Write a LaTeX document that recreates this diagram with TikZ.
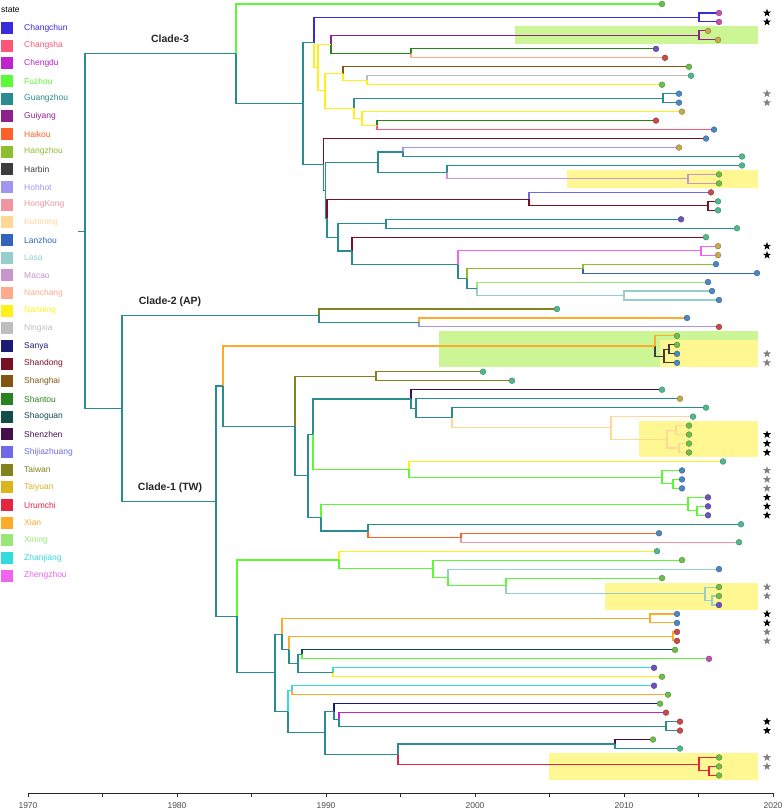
\documentclass[tikz,border=0pt]{standalone}
\usepackage{fontspec}
\setmainfont{Liberation Sans}
\usetikzlibrary{calc,shapes.geometric}
\definecolor{cChangchun}{RGB}{58,42,222}
\definecolor{cChangsha}{RGB}{255,85,120}
\definecolor{cChengdu}{RGB}{190,35,205}
\definecolor{cFuzhou}{RGB}{90,250,55}
\definecolor{cGuangzhou}{RGB}{40,140,145}
\definecolor{cGuiyang}{RGB}{140,35,140}
\definecolor{cHaikou}{RGB}{255,95,40}
\definecolor{cHangzhou}{RGB}{140,190,45}
\definecolor{cHarbin}{RGB}{60,60,60}
\definecolor{cHohhot}{RGB}{160,150,240}
\definecolor{cHongKong}{RGB}{240,150,160}
\definecolor{cKunming}{RGB}{255,215,150}
\definecolor{cLanzhou}{RGB}{50,100,190}
\definecolor{cLasa}{RGB}{150,205,205}
\definecolor{cMacao}{RGB}{200,150,205}
\definecolor{cNanchang}{RGB}{255,170,140}
\definecolor{cNanning}{RGB}{255,240,25}
\definecolor{cNingxia}{RGB}{190,190,190}
\definecolor{cSanya}{RGB}{30,25,115}
\definecolor{cShandong}{RGB}{120,15,35}
\definecolor{cShanghai}{RGB}{130,85,20}
\definecolor{cShantou}{RGB}{40,130,30}
\definecolor{cShaoguan}{RGB}{20,75,75}
\definecolor{cShenzhen}{RGB}{70,15,75}
\definecolor{cShijiazhuang}{RGB}{110,105,230}
\definecolor{cTaiwan}{RGB}{130,130,30}
\definecolor{cTaiyuan}{RGB}{220,180,30}
\definecolor{cUrumchi}{RGB}{230,35,65}
\definecolor{cXian}{RGB}{255,170,40}
\definecolor{cXining}{RGB}{155,230,120}
\definecolor{cZhanjiang}{RGB}{50,220,220}
\definecolor{cZhengzhou}{RGB}{240,100,240}
\definecolor{dg}{RGB}{110,190,75}
\definecolor{db}{RGB}{75,135,195}
\definecolor{dp}{RGB}{110,80,190}
\definecolor{dr}{RGB}{200,75,75}
\definecolor{dt}{RGB}{80,185,140}
\definecolor{dy}{RGB}{195,170,75}
\definecolor{dm}{RGB}{195,80,175}
\definecolor{hgreen}{RGB}{204,245,150}
\definecolor{hyellow}{RGB}{255,247,145}
\definecolor{axgray}{RGB}{77,77,77}
\definecolor{stargray}{RGB}{128,128,128}
\newcommand\tp[3]{\coordinate (#1) at (#2,{4+8.97*#3});}
\newcommand\nd[4]{\coordinate (tmpA) at ($(#3)!0.5!(#4)$);\coordinate (tmpX) at (#2,0);\coordinate (#1) at (tmpA -| tmpX);}
\newcommand\ed[3]{\draw[br,draw=#3] (#1) |- (#2);}
\begin{document}
\begin{tikzpicture}[x=1pt,y=-1pt,
  br/.style={line width=1.1pt},
  dot/.style={circle,inner sep=0pt,minimum size=5.8pt,line width=0.35pt},
  bstar/.style={star,star points=5,star point ratio=2.5,inner sep=0pt,minimum size=8.5pt,fill=black},
  gstar/.style={star,star points=5,star point ratio=2.5,inner sep=0pt,minimum size=8.5pt,fill=stargray},
  lgtext/.style={anchor=west,inner sep=0pt,font=\fontsize{8.5}{10}\selectfont},
  cladelab/.style={font=\fontsize{10.5}{12}\selectfont\bfseries,text=black!85}]
\useasboundingbox (0,0) rectangle (784,811);
% highlight boxes
\fill[hgreen] (515,26.4) rectangle (758,44.4);
\fill[hyellow] (567,169.9) rectangle (758,187.9);
\fill[hgreen] (439,331.4) rectangle (758,367.3);
\fill[hyellow] (660,340.4) rectangle (758,367.3);
\fill[hyellow] (639,421.1) rectangle (758,457.0);
\fill[hyellow] (605,582.6) rectangle (758,609.5);
\fill[hyellow] (549,753.0) rectangle (758,779.9);
% tips
\tp{t0}{662}{0}\tp{t1}{719}{1}\tp{t2}{719}{2}\tp{t3}{708}{3}\tp{t4}{718}{4}
\tp{t5}{656}{5}\tp{t6}{665}{6}\tp{t7}{689}{7}\tp{t8}{691}{8}\tp{t9}{662}{9}
\tp{t10}{679}{10}\tp{t11}{679}{11}\tp{t12}{682}{12}\tp{t13}{656}{13}\tp{t14}{714}{14}
\tp{t15}{706}{15}\tp{t16}{679}{16}\tp{t17}{742}{17}\tp{t18}{742}{18}\tp{t19}{719}{19}
\tp{t20}{719}{20}\tp{t21}{711}{21}\tp{t22}{718}{22}\tp{t23}{718}{23}\tp{t24}{681}{24}
\tp{t25}{737}{25}\tp{t26}{706}{26}\tp{t27}{718}{27}\tp{t28}{718}{28}\tp{t29}{716}{29}
\tp{t30}{757}{30}\tp{t31}{708}{31}\tp{t32}{712}{32}\tp{t33}{719}{33}\tp{t34}{557}{34}
\tp{t35}{687}{35}\tp{t36}{719}{36}\tp{t37}{677}{37}\tp{t38}{677}{38}\tp{t39}{677}{39}
\tp{t40}{677}{40}\tp{t41}{483}{41}\tp{t42}{512}{42}\tp{t43}{662}{43}\tp{t44}{680}{44}
\tp{t45}{706}{45}\tp{t46}{693}{46}\tp{t47}{689}{47}\tp{t48}{689}{48}\tp{t49}{689}{49}
\tp{t50}{689}{50}\tp{t51}{723}{51}\tp{t52}{682}{52}\tp{t53}{682}{53}\tp{t54}{682}{54}
\tp{t55}{708}{55}\tp{t56}{708}{56}\tp{t57}{708}{57}\tp{t58}{741}{58}\tp{t59}{659}{59}
\tp{t60}{739}{60}\tp{t61}{657}{61}\tp{t62}{682}{62}\tp{t63}{719}{63}\tp{t64}{662}{64}
\tp{t65}{719}{65}\tp{t66}{719}{66}\tp{t67}{719}{67}\tp{t68}{677}{68}\tp{t69}{677}{69}
\tp{t70}{677}{70}\tp{t71}{677}{71}\tp{t72}{675}{72}\tp{t73}{709}{73}\tp{t74}{654}{74}
\tp{t75}{662}{75}\tp{t76}{654}{76}\tp{t77}{668}{77}\tp{t78}{660}{78}\tp{t79}{666}{79}
\tp{t80}{680}{80}\tp{t81}{680}{81}\tp{t82}{653}{82}\tp{t83}{680}{83}\tp{t84}{719}{84}
\tp{t85}{719}{85}\tp{t86}{719}{86}
% internal nodes
\nd{a1}{699}{t1}{t2}\nd{a2}{699}{t3}{t4}\nd{a3}{411}{t5}{t6}\nd{a4}{331}{a2}{a3}
\nd{a5}{367}{t8}{t9}\nd{a6}{343}{t7}{a5}\nd{a7}{663}{t10}{t11}\nd{a8}{377}{t13}{t14}
\nd{a9}{362}{t12}{a8}\nd{a10}{354}{a7}{a9}\nd{a11}{325}{a6}{a10}\nd{a12}{318}{a4}{a11}
\nd{a13}{314}{a1}{a12}
\nd{b1}{403}{t16}{t17}\nd{b2}{688}{t19}{t20}\nd{b3}{447}{t18}{b2}\nd{b4}{378}{b1}{b3}
\nd{b5}{708}{t22}{t23}\nd{b6}{529}{t21}{b5}\nd{b7}{386}{t24}{t25}\nd{b8}{701}{t27}{t28}
\nd{b9}{583}{t29}{t30}\nd{b10}{624}{t32}{t33}\nd{b11}{477}{t31}{b10}\nd{b12}{467}{b9}{b11}
\nd{b13}{458}{b8}{b12}\nd{b14}{352}{t26}{b13}\nd{b15}{338}{b7}{b14}\nd{b16}{327}{b6}{b15}
\nd{b17}{325.5}{b4}{b16}\nd{b18}{323.5}{t15}{b17}
\nd{a14}{303}{a13}{b18}\nd{a15}{236}{t0}{a14}
\nd{c1}{419}{t35}{t36}\nd{c2}{319}{t34}{c1}
\nd{d1}{669}{t38}{t39}\nd{d2}{664}{d1}{t40}\nd{d3}{655}{t37}{d2}\nd{d4}{376}{t41}{t42}
\nd{d5}{679}{t49}{t50}\nd{d6}{676}{t47}{t48}\nd{d7}{667}{d6}{d5}\nd{d8}{611}{t46}{d7}
\nd{d9}{452}{t45}{d8}\nd{d10}{416}{t44}{d9}\nd{d11}{411}{t43}{d10}\nd{d12}{673}{t53}{t54}
\nd{d13}{662}{t52}{d12}\nd{d14}{409}{t51}{d13}\nd{d15}{313}{d11}{d14}\nd{d16}{697}{t56}{t57}
\nd{d17}{688}{t55}{d16}\nd{d18}{461}{t59}{t60}\nd{d19}{368}{t58}{d18}\nd{d20}{321}{d17}{d19}
\nd{d21}{308}{d15}{d20}\nd{d22}{295}{d4}{d21}\nd{d23}{223}{d3}{d22}
\nd{e1}{712}{t66}{t67}\nd{e2}{705}{t65}{e1}\nd{e3}{506}{t64}{e2}\nd{e4}{448}{t63}{e3}
\nd{e5}{433}{t62}{e4}\nd{e6}{339}{t61}{e5}\nd{e7}{650}{t68}{t69}\nd{e8}{673}{t70}{t71}
\nd{e9}{302}{t72}{t73}\nd{e10}{333}{t74}{t75}\nd{e11}{298}{e9}{e10}\nd{e12}{289}{e8}{e11}
\nd{e13}{282}{e7}{e12}\nd{e14}{292}{t76}{t77}\nd{e15}{666}{t80}{t81}\nd{e16}{339}{t79}{e15}
\nd{e17}{334}{t78}{e16}\nd{e18}{615}{t82}{t83}\nd{e19}{709}{t85}{t86}\nd{e20}{699}{t84}{e19}
\nd{e21}{398}{e18}{e20}\nd{e22}{325}{e17}{e21}\nd{e23}{288}{e14}{e22}\nd{e24}{275}{e13}{e23}
\nd{e25}{237}{e6}{e24}
\nd{f1}{216}{d23}{e25}\nd{f2}{122}{c2}{f1}\nd{root}{85}{a15}{f2}
\coordinate (rsx) at (78,0);
\coordinate (rs) at (root -| rsx);
% edges: clade 3
\ed{a1}{t1}{cChangchun}\ed{a1}{t2}{cChangchun}
\ed{a2}{t3}{cGuiyang}\ed{a2}{t4}{cGuiyang}
\ed{a3}{t5}{cShantou}\ed{a3}{t6}{cNanchang}
\ed{a4}{a2}{cGuiyang}\ed{a4}{a3}{cShantou}
\ed{a5}{t8}{cNingxia}\ed{a5}{t9}{cNanning}
\ed{a6}{t7}{cShanghai}\ed{a6}{a5}{cNanning}
\ed{a7}{t10}{cGuangzhou}\ed{a7}{t11}{cGuangzhou}
\ed{a8}{t13}{cShantou}\ed{a8}{t14}{cChangsha}
\ed{a9}{t12}{cNanning}\ed{a9}{a8}{cNanning}
\ed{a10}{a7}{cGuangzhou}\ed{a10}{a9}{cNanning}
\ed{a11}{a6}{cNanning}\ed{a11}{a10}{cNanning}
\ed{a12}{a4}{cNanning}\ed{a12}{a11}{cNanning}
\ed{a13}{a1}{cChangchun}\ed{a13}{a12}{cNanning}
\ed{b1}{t16}{cHohhot}\ed{b1}{t17}{cGuangzhou}
\ed{b2}{t19}{cMacao}\ed{b2}{t20}{cMacao}
\ed{b3}{t18}{cGuangzhou}\ed{b3}{b2}{cMacao}
\ed{b4}{b1}{cGuangzhou}\ed{b4}{b3}{cGuangzhou}
\ed{b5}{t22}{cShandong}\ed{b5}{t23}{cShandong}
\ed{b6}{t21}{cShijiazhuang}\ed{b6}{b5}{cShandong}
\ed{b7}{t24}{cGuangzhou}\ed{b7}{t25}{cGuangzhou}
\ed{b8}{t27}{cZhengzhou}\ed{b8}{t28}{cZhengzhou}
\ed{b9}{t29}{cHangzhou}\ed{b9}{t30}{cLanzhou}
\ed{b10}{t32}{cLasa}\ed{b10}{t33}{cLasa}
\ed{b11}{t31}{cXining}\ed{b11}{b10}{cLasa}
\ed{b12}{b9}{cHangzhou}\ed{b12}{b11}{cGuangzhou}
\ed{b13}{b8}{cZhengzhou}\ed{b13}{b12}{cGuangzhou}
\ed{b14}{t26}{cShandong}\ed{b14}{b13}{cGuangzhou}
\ed{b15}{b7}{cGuangzhou}\ed{b15}{b14}{cGuangzhou}
\ed{b16}{b6}{cShandong}\ed{b16}{b15}{cGuangzhou}
\ed{b17}{b4}{cGuangzhou}\ed{b17}{b16}{cGuangzhou}
\ed{b18}{t15}{cShandong}\ed{b18}{b17}{cGuangzhou}
\ed{a14}{a13}{cGuangzhou}\ed{a14}{b18}{cGuangzhou}
\ed{a15}{t0}{cFuzhou}\ed{a15}{a14}{cGuangzhou}
% clade 2
\ed{c1}{t35}{cXian}\ed{c1}{t36}{cHohhot}
\ed{c2}{t34}{cTaiwan}\ed{c2}{c1}{cGuangzhou}
% clade 1
\ed{d1}{t38}{cHarbin}\ed{d1}{t39}{cHarbin}
\ed{d2}{d1}{cHarbin}\ed{d2}{t40}{cHarbin}
\ed{d3}{t37}{cXian}\ed{d3}{d2}{cHarbin}
\ed{d4}{t41}{cTaiwan}\ed{d4}{t42}{cTaiwan}
\ed{d5}{t49}{cKunming}\ed{d5}{t50}{cKunming}
\ed{d6}{t47}{cKunming}\ed{d6}{t48}{cKunming}
\ed{d7}{d6}{cKunming}\ed{d7}{d5}{cKunming}
\ed{d8}{t46}{cKunming}\ed{d8}{d7}{cKunming}
\ed{d9}{t45}{cGuangzhou}\ed{d9}{d8}{cKunming}
\ed{d10}{t44}{cGuangzhou}\ed{d10}{d9}{cGuangzhou}
\ed{d11}{t43}{cShenzhen}\ed{d11}{d10}{cGuangzhou}
\ed{d12}{t53}{cFuzhou}\ed{d12}{t54}{cFuzhou}
\ed{d13}{t52}{cFuzhou}\ed{d13}{d12}{cFuzhou}
\ed{d14}{t51}{cNanning}\ed{d14}{d13}{cFuzhou}
\ed{d15}{d11}{cGuangzhou}\ed{d15}{d14}{cFuzhou}
\ed{d16}{t56}{cFuzhou}\ed{d16}{t57}{cFuzhou}
\ed{d17}{t55}{cFuzhou}\ed{d17}{d16}{cFuzhou}
\ed{d18}{t59}{cHaikou}\ed{d18}{t60}{cHongKong}
\ed{d19}{t58}{cGuangzhou}\ed{d19}{d18}{cHaikou}
\ed{d20}{d17}{cFuzhou}\ed{d20}{d19}{cGuangzhou}
\ed{d21}{d15}{cGuangzhou}\ed{d21}{d20}{cGuangzhou}
\ed{d22}{d4}{cTaiwan}\ed{d22}{d21}{cGuangzhou}
\ed{d23}{d3}{cXian}\ed{d23}{d22}{cGuangzhou}
\ed{e1}{t66}{cLasa}\ed{e1}{t67}{cLasa}
\ed{e2}{t65}{cLasa}\ed{e2}{e1}{cLasa}
\ed{e3}{t64}{cFuzhou}\ed{e3}{e2}{cLasa}
\ed{e4}{t63}{cLasa}\ed{e4}{e3}{cFuzhou}
\ed{e5}{t62}{cFuzhou}\ed{e5}{e4}{cFuzhou}
\ed{e6}{t61}{cNanning}\ed{e6}{e5}{cFuzhou}
\ed{e7}{t68}{cXian}\ed{e7}{t69}{cXian}
\ed{e8}{t70}{cXian}\ed{e8}{t71}{cXian}
\ed{e9}{t72}{cShaoguan}\ed{e9}{t73}{cFuzhou}
\ed{e10}{t74}{cZhanjiang}\ed{e10}{t75}{cNanning}
\ed{e11}{e9}{cGuangzhou}\ed{e11}{e10}{cGuangzhou}
\ed{e12}{e8}{cXian}\ed{e12}{e11}{cGuangzhou}
\ed{e13}{e7}{cXian}\ed{e13}{e12}{cGuangzhou}
\ed{e14}{t76}{cZhanjiang}\ed{e14}{t77}{cXian}
\ed{e15}{t80}{cGuangzhou}\ed{e15}{t81}{cGuangzhou}
\ed{e16}{t79}{cChengdu}\ed{e16}{e15}{cGuangzhou}
\ed{e17}{t78}{cSanya}\ed{e17}{e16}{cGuangzhou}
\ed{e18}{t82}{cShenzhen}\ed{e18}{t83}{cGuangzhou}
\ed{e19}{t85}{cUrumchi}\ed{e19}{t86}{cUrumchi}
\ed{e20}{t84}{cUrumchi}\ed{e20}{e19}{cUrumchi}
\ed{e21}{e18}{cGuangzhou}\ed{e21}{e20}{cUrumchi}
\ed{e22}{e17}{cGuangzhou}\ed{e22}{e21}{cGuangzhou}
\ed{e23}{e14}{cZhanjiang}\ed{e23}{e22}{cGuangzhou}
\ed{e24}{e13}{cGuangzhou}\ed{e24}{e23}{cGuangzhou}
\ed{e25}{e6}{cFuzhou}\ed{e25}{e24}{cGuangzhou}
\ed{f1}{d23}{cGuangzhou}\ed{f1}{e25}{cGuangzhou}
\ed{f2}{c2}{cGuangzhou}\ed{f2}{f1}{cGuangzhou}
\ed{root}{a15}{cGuangzhou}\ed{root}{f2}{cGuangzhou}
\draw[br,draw=cGuangzhou] (rs) -- (root);
% tip dots
\foreach \i/\c in {0/dg,1/dm,2/dm,3/dy,4/dy,5/dp,6/dr,7/dg,8/dt,9/dg,10/db,11/db,12/dy,13/dr,14/db,15/db,16/dy,17/dt,18/dt,19/dg,20/dg,21/dr,22/dt,23/dt,24/dp,25/dt,26/dt,27/dy,28/dy,29/db,30/db,31/db,32/db,33/db,34/dt,35/db,36/dr,37/dg,38/dg,39/db,40/db,41/dt,42/dt,43/dt,44/dy,45/dt,46/dt,47/dg,48/dg,49/dg,50/dg,51/dt,52/db,53/db,54/db,55/dp,56/dp,57/dp,58/dt,59/db,60/dt,61/dt,62/dg,63/db,64/dg,65/dg,66/dg,67/dp,68/db,69/db,70/dr,71/dr,72/dg,73/dm,74/dp,75/dg,76/dp,77/dg,78/dg,79/dr,80/dr,81/dr,82/dg,83/dt,84/dg,85/dg,86/dg}
  \node[dot,fill=\c,draw=\c!70!black] (dot\i) at (t\i) {};
% stars
\foreach \k in {1,2,27,28,48,49,50,55,56,57,68,69,80,81}
  \node[bstar] (sb\k) at (767,{4+8.97*\k}) {};
\foreach \k in {10,11,39,40,52,53,54,65,66,70,71,84,85}
  \node[gstar] (sg\k) at (767,{4+8.97*\k}) {};
% clade labels
\node[cladelab] (lab3) at (170,39) {Clade-3};
\node[cladelab] (lab2) at (170,302) {Clade-2 (AP)};
\node[cladelab] (lab1) at (170,488) {Clade-1 (TW)};
% legend
\node[lgtext] (lgtitle) at (1,10) {state};
\foreach \n [count=\i from 0] in {Changchun,Changsha,Chengdu,Fuzhou,Guangzhou,Guiyang,Haikou,Hangzhou,Harbin,Hohhot,HongKong,Kunming,Lanzhou,Lasa,Macao,Nanchang,Nanning,Ningxia,Sanya,Shandong,Shanghai,Shantou,Shaoguan,Shenzhen,Shijiazhuang,Taiwan,Taiyuan,Urumchi,Xian,Xining,Zhanjiang,Zhengzhou}{
  \node[fill=c\n,inner sep=0pt,minimum size=12pt] (lg\i) at (7,{28+17.67*\i}) {};
  \node[lgtext,text=c\n] (lt\i) at (24,{28+17.67*\i}) {\n};
}
% axis
\draw[line width=0.9pt,black!85] (28,793) -- (773,793);
\foreach \yr in {1970,1975,...,2020}
  \draw[line width=0.6pt,black!85] ({28+14.9*(\yr-1970)},793) -- ({28+14.9*(\yr-1970)},796.5);
\foreach \yr in {1970,1980,...,2020}
  \node[text=axgray,font=\fontsize{8.5}{10}\selectfont] (ax\yr) at ({28+14.9*(\yr-1970)},806) {\yr};
\end{tikzpicture}
\end{document}
